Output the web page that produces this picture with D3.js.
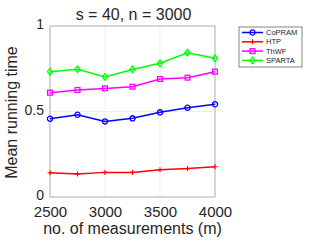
<!DOCTYPE html>
<html>
<head>
<meta charset="utf-8">
<script src="https://cdn.jsdelivr.net/npm/d3@7"></script>
<style>
  body { margin: 0; background: #fff; }
  text { font-family: "Liberation Sans", Arial, sans-serif; fill: #262626; }
</style>
</head>
<body>
<svg id="chart" width="324" height="243"></svg>
<script>
const measurements = [2500, 2750, 3000, 3250, 3500, 3750, 4000];
const copram = [0.458, 0.481, 0.442, 0.460, 0.495, 0.522, 0.542];
const htp = [0.142, 0.134, 0.144, 0.144, 0.160, 0.166, 0.177];
const thwf = [0.610, 0.626, 0.635, 0.645, 0.690, 0.698, 0.733];
const sparta = [0.733, 0.747, 0.702, 0.746, 0.782, 0.844, 0.811];
const xTicks = [2500, 3000, 3500, 4000];
const yTicks = [0, 0.5, 1];

const series = [
  { name: "CoPRAM", values: copram, color: "#0000ff", marker: "circle" },
  { name: "HTP", values: htp, color: "#ff0000", marker: "plus" },
  { name: "ThWF", values: thwf, color: "#ff00ff", marker: "square" },
  { name: "SPARTA", values: sparta, color: "#00ff00", marker: "diamond" }
];

const svg = d3.select("#chart"),
  margin = { top: 26, right: 109, bottom: 46, left: 50 };
const width = +svg.attr("width"), height = +svg.attr("height");
const chartWidth = width - margin.left - margin.right;
const chartHeight = height - margin.top - margin.bottom;

const g = svg.append("g").attr("transform", `translate(${margin.left},${margin.top})`);

const x = d3.scaleLinear().domain([2500, 4000]).range([0, chartWidth]);
const y = d3.scaleLinear().domain([0, 1]).range([chartHeight, 0]);

// grid
g.selectAll(".gx").data(xTicks).enter().append("line")
  .attr("x1", d => x(d)).attr("x2", d => x(d))
  .attr("y1", 0).attr("y2", chartHeight)
  .attr("stroke", "#e6e6e6").attr("stroke-width", 0.7);
g.selectAll(".gy").data(yTicks).enter().append("line")
  .attr("x1", 0).attr("x2", chartWidth)
  .attr("y1", d => y(d)).attr("y2", d => y(d))
  .attr("stroke", "#e6e6e6").attr("stroke-width", 0.7);

// box
g.append("rect").attr("width", chartWidth).attr("height", chartHeight)
  .attr("fill", "none").attr("stroke", "#a6a6a6").attr("stroke-width", 0.8);

// axes
const xAxis = g.append("g").attr("transform", `translate(0,${chartHeight})`)
  .call(d3.axisBottom(x).tickValues(xTicks).tickSize(0).tickPadding(9.5).tickFormat(d3.format("d")));
xAxis.select(".domain").remove();
xAxis.selectAll("text").attr("font-size", "15px").attr("fill", "#262626");

const yAxis = g.append("g")
  .call(d3.axisLeft(y).tickValues(yTicks).tickSize(0).tickPadding(6).tickFormat(d => d === 0.5 ? "0.5" : d3.format("d")(d)));
yAxis.select(".domain").remove();
yAxis.selectAll("text").attr("font-size", "14px").attr("fill", "#262626").attr("dy", "0.2em");

// labels
svg.append("text").attr("x", margin.left + chartWidth / 2 + 1).attr("y", 20)
  .attr("text-anchor", "middle").attr("font-size", "16px").text("s = 40, n = 3000");
svg.append("text").attr("x", margin.left + chartWidth / 2).attr("y", 234)
  .attr("text-anchor", "middle").attr("font-size", "16px").text("no. of measurements (m)");
svg.append("text")
  .attr("transform", `translate(17,${margin.top + chartHeight / 2 + 1}) rotate(-90)`)
  .attr("text-anchor", "middle").attr("font-size", "16px").text("Mean running time");

function drawMarker(sel, type, color) {
  if (type === "circle") {
    sel.append("circle").attr("r", 2.6).attr("fill", "none").attr("stroke", color).attr("stroke-width", 1.3);
  } else if (type === "plus") {
    sel.append("path").attr("d", "M-2.5,0H2.5M0,-2.5V2.5").attr("stroke", color).attr("stroke-width", 1.1);
  } else if (type === "square") {
    sel.append("rect").attr("x", -2.4).attr("y", -2.4).attr("width", 4.8).attr("height", 4.8)
      .attr("fill", "none").attr("stroke", color).attr("stroke-width", 1.3);
  } else {
    sel.append("path").attr("d", "M0,-3.3L2.6,0L0,3.3L-2.6,0Z")
      .attr("fill", "none").attr("stroke", color).attr("stroke-width", 1.3);
  }
}

const line = d3.line().x((d, i) => x(measurements[i])).y(d => y(d));

series.forEach(s => {
  g.append("path").datum(s.values).attr("d", line)
    .attr("fill", "none").attr("stroke", s.color).attr("stroke-width", 1.5);
  s.values.forEach((v, i) => {
    const m = g.append("g").attr("transform", `translate(${x(measurements[i])},${y(v)})`);
    drawMarker(m, s.marker, s.color);
  });
});

// legend
const lg = svg.append("g").attr("transform", "translate(239,27)");
lg.append("rect").attr("width", 63).attr("height", 40)
  .attr("fill", "#fff").attr("stroke", "#333").attr("stroke-width", 0.6);
series.forEach((s, i) => {
  const row = lg.append("g").attr("transform", `translate(0,${5.5 + i * 9.3})`);
  row.append("line").attr("x1", 3).attr("x2", 24).attr("stroke", s.color).attr("stroke-width", 1.5);
  drawMarker(row.append("g").attr("transform", "translate(13.5,0)"), s.marker, s.color);
  row.append("text").attr("x", 27).attr("y", 2.6).attr("font-size", "7.5px").text(s.name);
});
</script>
</body>
</html>
